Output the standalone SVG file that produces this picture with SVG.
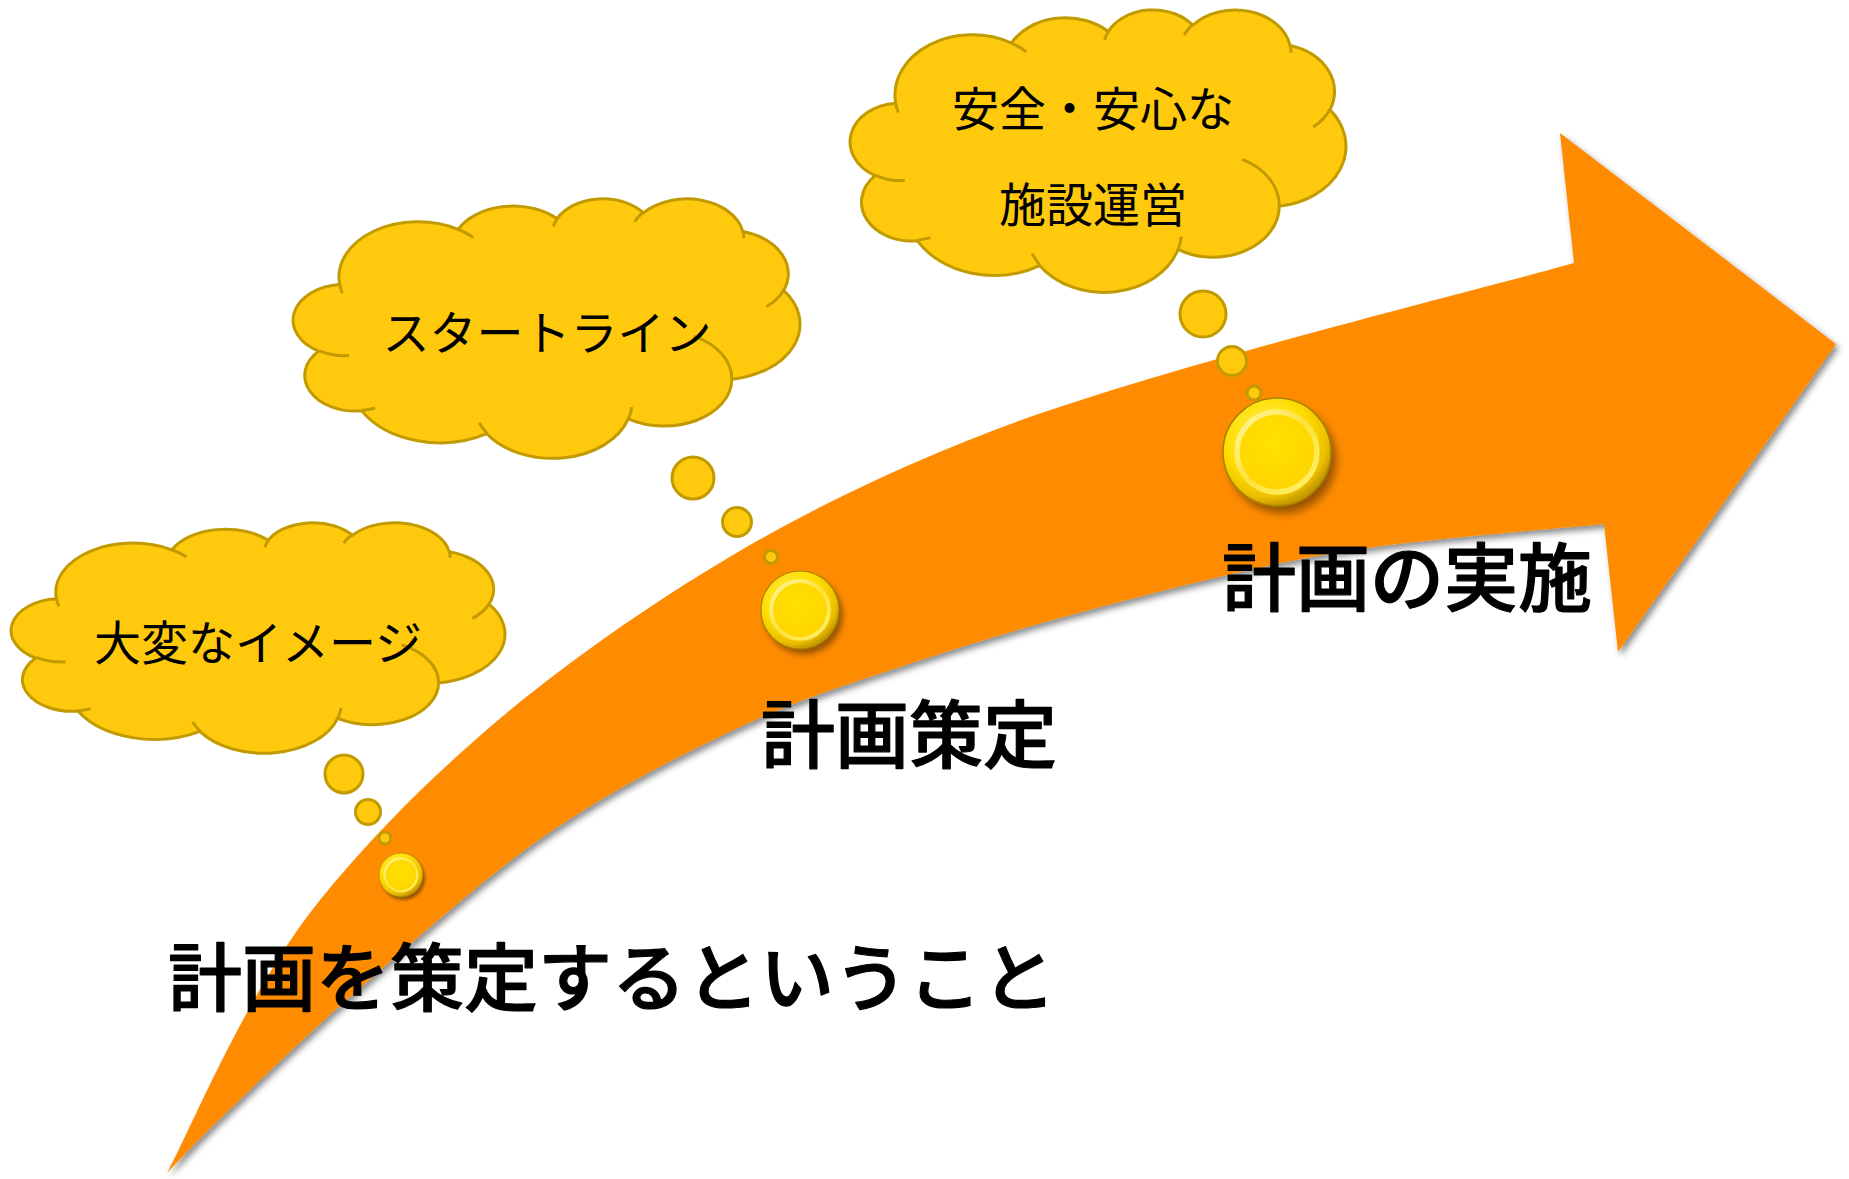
<svg xmlns="http://www.w3.org/2000/svg" xmlns:xlink="http://www.w3.org/1999/xlink" width="1849" height="1179" viewBox="0 0 1849 1179">
<style>
.cloud{fill:#FFC90E;stroke:#C19A00;stroke-width:3;vector-effect:non-scaling-stroke}
.cloudin{fill:none;stroke:#C19A00;stroke-width:3;vector-effect:non-scaling-stroke}
.bub{fill:#FFC90E;stroke:#C19A00;stroke-width:3}
.ct{font-family:"Noto Sans CJK JP","Noto Sans",sans-serif;font-size:47px;font-weight:400;fill:#000;text-anchor:middle;dominant-baseline:central}
.lt{font-family:"Noto Sans CJK JP","Noto Sans",sans-serif;font-size:74px;font-weight:500;fill:#000;stroke:#000;stroke-width:1.2;stroke-linejoin:round;text-anchor:middle;dominant-baseline:central}
</style>
<defs>
<filter id="ashadow" x="-10%" y="-10%" width="130%" height="130%">
<feDropShadow dx="3" dy="4" stdDeviation="3" flood-color="#000" flood-opacity="0.45"/>
</filter>
<filter id="blur" x="-50%" y="-50%" width="200%" height="200%"><feGaussianBlur stdDeviation="4"/></filter>
<radialGradient id="ballOuter" cx="40%" cy="35%" r="65%">
<stop offset="0" stop-color="#FFF25A"/><stop offset="0.6" stop-color="#FFDD00"/><stop offset="0.88" stop-color="#EBBE00"/><stop offset="1" stop-color="#C49A00"/>
</radialGradient>
<radialGradient id="ballInner" cx="45%" cy="40%" r="60%">
<stop offset="0" stop-color="#FFE200"/><stop offset="1" stop-color="#FFD400"/>
</radialGradient>
<linearGradient id="ballRim" x1="0" y1="0" x2="1" y2="1">
<stop offset="0" stop-color="#FFF7A0"/><stop offset="0.5" stop-color="#FFE23A"/><stop offset="1" stop-color="#FFF070"/>
</linearGradient>
<g id="ballShape">
<circle cx="5" cy="7" r="50" fill="#000" opacity="0.4" filter="url(#blur)"/>
<circle r="50" fill="url(#ballOuter)" stroke="#A88400" stroke-width="1.5"/>
<circle r="37" fill="url(#ballInner)" stroke="url(#ballRim)" stroke-width="5"/>
</g>
<path id="cloudShape" class="cloud" d="M39,143.7 A67.53,91.9 0 0 1 140.05,52.01 A53.33,72.67 0 0 1 224.56,34.31 A43.65,59.45 0 0 1 298.33,24.8 A48.57,65.95 0 0 1 383.18,55.75 A53.33,72.73 0 0 1 417.98,153.54 A67.75,92.2 0 0 1 373.84,300.97 A57.85,78.67 0 0 1 285.36,367.07 A67.52,92.15 0 0 1 164.6,391.58 A77.2,105.43 0 0 1 57.84,353.64 A43.6,59.18 0 0 1 20.93,254.42 A43.45,59.45 0 0 1 39,143.7 Z"/>
<path id="cloudInner" class="cloudin" d="M46.93,261.77 A43.45,59.45 0 0 1 21.6,253.8 M69.28,348.99 A43.6,59.18 0 0 1 58.19,352.81 M164.78,390.9 A67.52,92.15 0 0 1 158.1,373.5 M288.27,347.51 A67.52,92.15 0 0 1 285.6,366.6 M341.29,229.54 A57.85,78.67 0 0 1 373.8,300.9 M417.98,153.54 A53.33,72.73 0 0 1 403.51,180.28 M383.24,54.26 A48.57,65.95 0 0 1 384,66.9 M290.78,39.52 A48.57,65.95 0 0 1 298.2,23.4 M221.41,47.2 A43.65,59.45 0 0 1 225,33.3 M140,51.92 A67.53,91.9 0 0 1 153.01,65.41 M41.27,157.89 A67.53,91.9 0 0 1 39,143.71"/>
</defs>
<rect width="1849" height="1179" fill="#FFFFFF"/>

<g id="arrow">
<path d="M167,1173 C192,1127 248,989 320,900 C392,811 491,718 602,640 C713,562 825,496 987,433 C1149,370 1476,291 1574,263 L1560,133 L1836,344 L1618,652 L1604,524 C1560,528.7 1424,538.2 1340,552 C1256,565.8 1173.3,587.8 1100,607 C1026.7,626.2 960,647 900,667 C840,687 798.3,699.5 740,727 C681.7,754.5 611.8,789.8 550,832 C488.2,874.2 422.5,933.7 369,980 C315.5,1026.3 262.7,1077.8 229,1110 C195.3,1142.2 177.3,1162.5 167,1173 Z" fill="#FF8C00" filter="url(#ashadow)"/>
</g>

<g id="cloud1">
<g transform="translate(12,522) scale(1.1412,0.5347)"><use xlink:href="#cloudShape"/><use xlink:href="#cloudInner"/></g>
<circle class="bub" cx="344" cy="774" r="19"/>
<circle class="bub" cx="368" cy="812" r="12.5"/>
<circle class="bub" cx="385" cy="838" r="6"/>
<text class="ct" x="258" y="639">大変なイメージ</text>
</g>

<g id="cloud2">
<g transform="translate(294,198) scale(1.1713,0.6019)"><use xlink:href="#cloudShape"/><use xlink:href="#cloudInner"/></g>
<circle class="bub" cx="693" cy="478" r="21"/>
<circle class="bub" cx="737" cy="522" r="14.5"/>
<circle class="bub" cx="771" cy="557" r="6.5"/>
<text class="ct" x="547" y="329">スタートライン</text>
</g>

<g id="cloud3">
<g transform="translate(851,9) scale(1.1458,0.6551)"><use xlink:href="#cloudShape"/><use xlink:href="#cloudInner"/></g>
<circle class="bub" cx="1203" cy="314" r="23"/>
<circle class="bub" cx="1232" cy="361" r="14.5"/>
<circle class="bub" cx="1254" cy="393" r="7"/>
<text class="ct" x="1093" y="105">安全・安心な</text>
<text class="ct" x="1093" y="201">施設運営</text>
</g>

<g id="ball1"><use xlink:href="#ballShape" transform="translate(401,875) scale(0.44)"/></g>
<g id="ball2"><use xlink:href="#ballShape" transform="translate(800,610) scale(0.78)"/></g>
<g id="ball3"><use xlink:href="#ballShape" transform="translate(1277,452) scale(1.08)"/></g>

<g id="label1"><text class="lt" x="612" y="972">計画を策定するということ</text></g>
<g id="label2"><text class="lt" x="909" y="729">計画策定</text></g>
<g id="label3"><text class="lt" x="1407" y="572">計画の実施</text></g>
</svg>
